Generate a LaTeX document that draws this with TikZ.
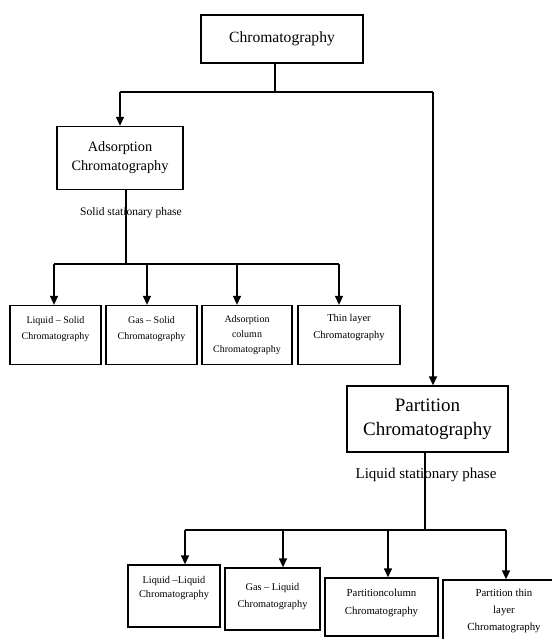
\documentclass[tikz,border=0pt]{standalone}
\usepackage{fontspec}
\setmainfont{Liberation Serif}
\usetikzlibrary{arrows.meta}
\newcommand\liftup[2]{\raisebox{#1}[\height][\depth]{\begin{tabular}{@{}c@{}}#2\end{tabular}}}
\begin{document}
\begin{tikzpicture}[x=1pt,y=-1pt,
  box/.style={draw,line width=1.3pt,rectangle,align=center,inner sep=2pt},
  conn/.style={line width=1.3pt},
  arr/.style={line width=1.3pt,-{Triangle[length=9pt,width=8pt]}},
  lbl/.style={inner sep=0pt}]
\useasboundingbox (0,0) rectangle (551,639);
% main boxes
\node[box,minimum width=162pt,minimum height=48pt,font=\fontsize{15.6}{18}\selectfont] (top) at (282,39) {Chromatography};
\node[box,minimum width=126pt,minimum height=63pt,font=\fontsize{14.3}{19}\selectfont] (ads) at (120,158) {Adsorption\\Chromatography};
\node[box,minimum width=161pt,minimum height=66pt,font=\fontsize{19}{24}\selectfont] (par) at (427.5,419) {Partition\\Chromatography};
% adsorption children
\node[box,minimum width=91pt,minimum height=59pt,font=\fontsize{10}{16}\selectfont] (a1) at (55.5,335) {\liftup{7pt}{Liquid -- Solid\\Chromatography}};
\node[box,minimum width=91pt,minimum height=59pt,font=\fontsize{10}{16}\selectfont] (a2) at (151.5,335) {\liftup{7pt}{Gas -- Solid\\Chromatography}};
\node[box,minimum width=90pt,minimum height=59pt,font=\fontsize{10}{15}\selectfont] (a3) at (247,335) {Adsorption\\column\\Chromatography};
\node[box,minimum width=102pt,minimum height=59pt,font=\fontsize{10.5}{17}\selectfont] (a4) at (349,335) {\liftup{8pt}{Thin layer\\Chromatography}};
% partition children
\node[box,minimum width=92pt,minimum height=62pt,font=\fontsize{10.3}{14}\selectfont] (p1) at (174,596) {\liftup{8pt}{Liquid --Liquid\\Chromatography}};
\node[box,minimum width=95pt,minimum height=62pt,font=\fontsize{10.3}{17}\selectfont] (p2) at (272.5,599) {\liftup{3pt}{Gas -- Liquid\\Chromatography}};
\node[box,minimum width=113pt,minimum height=58pt,font=\fontsize{10.8}{18}\selectfont] (p3) at (381.5,607) {\liftup{5pt}{Partitioncolumn\\Chromatography}};
\node[box,minimum width=122pt,minimum height=62pt,font=\fontsize{10.8}{17}\selectfont] (p4) at (504,611) {Partition thin\\layer\\Chromatography};
% connectors from top
\coordinate (t0) at (275,92);
\coordinate (tl) at (120,92);
\coordinate (tr) at (433,92);
\draw[conn] (top.south -| t0) -- (t0);
\draw[conn] (tl) -- (tr);
\draw[arr] (tl) -- (ads.north);
\draw[arr] (tr) -- (tr |- par.north);
% adsorption branch
\coordinate (aj) at (126,264);
\coordinate (aL) at (54,264);
\coordinate (aR) at (339,264);
\coordinate (ax2) at (147,264);
\coordinate (ax3) at (237,264);
\draw[conn] (ads.south -| aj) -- (aj);
\draw[conn] (aL) -- (aR);
\draw[arr] (aL) -- (aL |- a1.north);
\draw[arr] (ax2) -- (ax2 |- a2.north);
\draw[arr] (ax3) -- (ax3 |- a3.north);
\draw[arr] (aR) -- (aR |- a4.north);
\node[lbl,font=\fontsize{11.5}{14}\selectfont] (slbl) at (131,213) {Solid stationary phase};
% partition branch
\coordinate (pj) at (425,530);
\coordinate (pL) at (185,530);
\coordinate (pR) at (506,530);
\coordinate (px2) at (283,530);
\coordinate (px3) at (388,530);
\draw[conn] (par.south -| pj) -- (pj);
\draw[conn] (pL) -- (pR);
\draw[arr] (pL) -- (pL |- p1.north);
\draw[arr] (px2) -- (px2 |- p2.north);
\draw[arr] (px3) -- (px3 |- p3.north);
\draw[arr] (pR) -- (pR |- p4.north);
\node[lbl,font=\fontsize{15}{18}\selectfont] (llbl) at (426,475) {Liquid stationary phase};
\end{tikzpicture}
\end{document}
